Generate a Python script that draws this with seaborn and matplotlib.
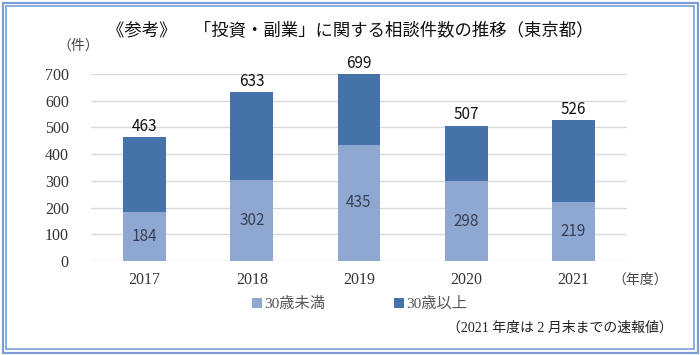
import numpy as np
import pandas as pd
import matplotlib
matplotlib.use("Agg")
import matplotlib.pyplot as plt
from matplotlib.patches import Rectangle, Patch
import seaborn as sns

years = ["2017", "2018", "2019", "2020", "2021"]
under30 = [184, 302, 435, 298, 219]
total = [463, 633, 699, 507, 526]
y_ticks = [0, 100, 200, 300, 400, 500, 600, 700]

LIGHT = "#8FA8D2"
DARK = "#4672AA"
SERIF = ["Liberation Serif", "Noto Sans CJK JP"]
SANS = ["Noto Sans CJK JP", "DejaVu Sans"]

sns.set_theme(style="white")
plt.rcParams["font.family"] = SERIF

df = pd.DataFrame({"year": years, "under30": under30, "total": total})

fig = plt.figure(figsize=(7.0, 3.55), dpi=100)
ax = fig.add_axes([91 / 700, 1 - 261 / 355, (627 - 91) / 700, (261 - 74) / 355])

sns.barplot(data=df, x="year", y="total", color=DARK, width=0.4,
            saturation=1, linewidth=0, edgecolor="none", ax=ax, zorder=3)
sns.barplot(data=df, x="year", y="under30", color=LIGHT, width=0.4,
            saturation=1, linewidth=0, edgecolor="none", ax=ax, zorder=3)

ax.set_ylim(0, 700)
ax.set_yticks(y_ticks)
ax.set_xlabel("")
ax.set_ylabel("")
for s in ax.spines.values():
    s.set_visible(False)
ax.yaxis.grid(True, color="#D9D9D9", linewidth=1.0, zorder=0)
ax.set_axisbelow(True)
ax.tick_params(axis="both", length=0, labelsize=11.5, colors="#333333")
ax.tick_params(axis="y", pad=16)
ax.tick_params(axis="x", pad=8)

for i, (u, t) in enumerate(zip(under30, total)):
    ax.text(i, u / 2, str(u), ha="center", va="center", fontsize=11,
            color="#3A3F55", family=SANS, zorder=4)
    ax.text(i, t + 8, str(t), ha="center", va="bottom", fontsize=11,
            color="#111111", family=SANS, zorder=4)

fig.text(0.5, 1 - 30 / 355, "《参考》　「投資・副業」に関する相談件数の推移（東京都）",
         ha="center", va="center", fontsize=12.5, family=SANS, color="#111111")
fig.text(78 / 700, 1 - 46 / 355, "（件）", ha="center", va="center",
         fontsize=10, family=SANS, color="#444444")
fig.text(640 / 700, 1 - 280 / 355, "（年度）", ha="center", va="center",
         fontsize=10, family=SANS, color="#444444")
fig.text(673 / 700, 1 - 328 / 355, "（2021 年度は 2 月末までの速報値）",
         ha="right", va="center", fontsize=10, family=SERIF, color="#222222")

handles = [Patch(facecolor=LIGHT, edgecolor="none", label="30歳未満"),
           Patch(facecolor=DARK, edgecolor="none", label="30歳以上")]
leg = fig.legend(handles=handles, loc="center", bbox_to_anchor=(360 / 700, 1 - 304 / 355),
                 ncol=2, frameon=False, handlelength=0.6, handleheight=0.6,
                 handletextpad=0.2, columnspacing=4.5,
                 prop={"family": SERIF, "size": 11})
for t in leg.get_texts():
    t.set_color("#555555")

# double frame around the picture
for off, lw in [(2.5, 1.6), (6.0, 1.2)]:
    fig.patches.append(Rectangle((off / 700, off / 355), 1 - 2 * off / 700,
                                 1 - 2 * off / 355, transform=fig.transFigure,
                                 fill=False, edgecolor="#7C9DD6", linewidth=lw))

fig.savefig("out.png", dpi=100)
